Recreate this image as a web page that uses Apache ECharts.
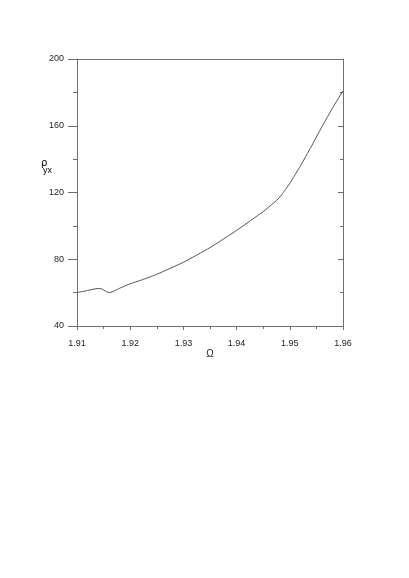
<!DOCTYPE html>
<html>
<head>
<meta charset="utf-8">
<script src="https://cdn.jsdelivr.net/npm/echarts@6/dist/echarts.min.js"></script>
<style>
  html, body { margin: 0; padding: 0; background: #fff; }
  #chart { width: 409px; height: 578px; }
</style>
</head>
<body>
<div id="chart"></div>
<script>
// values
const omega = [1.910, 1.912, 1.914, 1.9147, 1.9153, 1.9158, 1.9162, 1.918, 1.920, 1.922, 1.925,
  1.930, 1.935, 1.940, 1.945, 1.947, 1.948, 1.9485, 1.949, 1.950, 1.952, 1.954, 1.956, 1.958, 1.960];
const rho = [60.0, 61.3, 62.5, 62.2, 61.0, 60.2, 60.1, 62.6, 65.3, 67.4, 71.0,
  78.2, 87.0, 97.3, 108.6, 113.8, 116.8, 118.8, 121.0, 125.5, 136.0, 147.3, 159.2, 170.4, 181.0];
const xTicks = [1.91, 1.92, 1.93, 1.94, 1.95, 1.96];
const yTicks = [40, 80, 120, 160, 200];

const axisColor = '#6e6e6e';
const labelFont = { fontFamily: 'Liberation Sans', fontSize: 9, color: '#222' };

const chart = echarts.init(document.getElementById('chart'));

chart.setOption({
  backgroundColor: '#fff',
  animation: false,
  grid: { left: 77, right: 66, top: 59, bottom: 252 },
  xAxis: [
    {
      type: 'value',
      min: xTicks[0],
      max: xTicks[xTicks.length - 1],
      interval: 0.01,
      name: 'Ω',
      nameLocation: 'middle',
      nameGap: 21,
      nameTextStyle: { fontFamily: 'Liberation Sans', fontSize: 10, color: '#222' },
      axisLine: { lineStyle: { color: axisColor, width: 1 } },
      axisTick: { length: 4, lineStyle: { color: axisColor } },
      minorTick: { show: true, splitNumber: 2, length: 3, lineStyle: { color: axisColor } },
      axisLabel: Object.assign({ margin: 13, formatter: v => v.toFixed(2) }, labelFont),
      splitLine: { show: false }
    },
    {
      type: 'value',
      position: 'top',
      min: xTicks[0],
      max: xTicks[xTicks.length - 1],
      axisLine: { show: true, lineStyle: { color: axisColor, width: 1 } },
      axisTick: { show: false },
      axisLabel: { show: false },
      splitLine: { show: false }
    }
  ],
  yAxis: [
    {
      type: 'value',
      min: yTicks[0],
      max: yTicks[yTicks.length - 1],
      interval: 40,
      axisLine: { show: true, lineStyle: { color: axisColor, width: 1 } },
      axisTick: { length: 9, lineStyle: { color: axisColor } },
      minorTick: { show: true, splitNumber: 2, length: 4, lineStyle: { color: axisColor } },
      axisLabel: Object.assign({ margin: 13 }, labelFont),
      splitLine: { show: false }
    },
    {
      type: 'value',
      position: 'right',
      min: yTicks[0],
      max: yTicks[yTicks.length - 1],
      interval: 40,
      axisLine: { show: true, lineStyle: { color: axisColor, width: 1 } },
      axisTick: { inside: true, length: 5, lineStyle: { color: axisColor } },
      minorTick: { show: true, splitNumber: 2, length: 3, lineStyle: { color: axisColor } },
      axisLabel: { show: false },
      splitLine: { show: false }
    }
  ],
  graphic: [
    {
      type: 'text',
      left: 41,
      top: 158,
      style: {
        text: '{a|ρ}\n{b|yx}',
        rich: {
          a: { fontFamily: 'DejaVu Sans', fontSize: 10, color: '#222', lineHeight: 7 },
          b: { fontFamily: 'Liberation Sans', fontSize: 9, color: '#222', lineHeight: 9, padding: [0, 0, 0, 2] }
        }
      }
    }
  ],
  series: [
    {
      type: 'line',
      data: omega.map((x, i) => [x, rho[i]]),
      showSymbol: false,
      smooth: 0.2,
      lineStyle: { color: '#555', width: 1 }
    }
  ]
});
</script>
</body>
</html>
